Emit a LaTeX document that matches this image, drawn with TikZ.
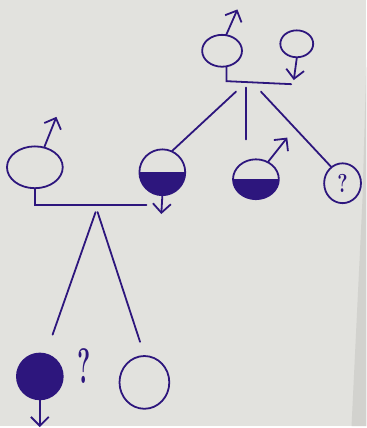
\documentclass[tikz,border=0pt]{standalone}
\usepackage{fontspec}
\usetikzlibrary{shapes.geometric,arrows.meta}
\definecolor{ink}{RGB}{45,22,125}
\definecolor{paper}{RGB}{226,226,222}
\definecolor{paperedge}{RGB}{210,210,206}

\begin{document}
\begin{tikzpicture}[x=1pt,y=-1pt,line width=1.8pt,line cap=round,
	person/.style={ellipse,draw,inner sep=0pt},
	half/.style={path picture={\fill[ink] (path picture bounding box.west) rectangle (path picture bounding box.south east);}},
	sym/.style={-{Straight Barb[length=9pt,width=18pt,line width=1.8pt]}}]

	% paper
	\fill[paper] (0,0) rectangle (368,428);
	\fill[paperedge] (368,60) -- (364,200) -- (353,428) -- (368,428) -- cycle;

	\begin{scope}[color=ink]

		% grandparents
		\node[person,minimum width=40,minimum height=32] (gpa) at (223,51) {};
		\node[person,minimum width=33,minimum height=27] (gma) at (298,44) {};
		\draw[sym] (gpa.75) -- ++(11,-25);
		\draw[sym] (gma.south) -- ++(-3,22);
		\draw (gpa.285) -- ++(0,14) coordinate (mar1) -- ++(65,3);

		% their children
		\node[person,half,minimum width=46,minimum height=46] (mom) at (163,173) {};
		\node[person,half,minimum width=46,minimum height=40] (uncle) at (257,180) {};
		\node[person,minimum width=37,minimum height=40,font=\bfseries\fontsize{26}{26}\selectfont] (unk) at (344,184) {\scalebox{0.75}[1]{?}};
		\coordinate (sib1) at (247,92);
		\draw ([xshift=-10]sib1) -- (mom.65);
		\draw ([yshift=4]sib1) -- ++(0,52);
		\draw ([xshift=15]sib1) -- (unk.125);
		\draw[sym] (uncle.55) -- ++(19,-24);

		% parents
		\node[person,minimum width=56,minimum height=42] (dad) at (35,168) {};
		\draw[sym] (dad.65) -- ++(12,-30);
		\draw[sym] (mom.south) -- ++(-1,18);
		\draw (dad.south) -- ++(0,16) coordinate (mar2) -- ++(112,0);

		% grandchildren
		\node[person,fill=ink,minimum width=46,minimum height=46] (girl) at (40,378) {};
		\node[person,minimum width=50,minimum height=53] (sis) at (145,384) {};
		\node[font=\bfseries\fontsize{50}{50}\selectfont] (qm) at (84,368) {\scalebox{0.5}[1]{?}};
		\coordinate (sib2) at (96,213);
		\draw (sib2) -- (girl.75) [shorten >=20pt];
		\draw ([xshift=2]sib2) -- (sis.north) [shorten >=14pt];
		\draw[sym] (girl.south) -- ++(0,27);

	\end{scope}

\end{tikzpicture}
\end{document}
